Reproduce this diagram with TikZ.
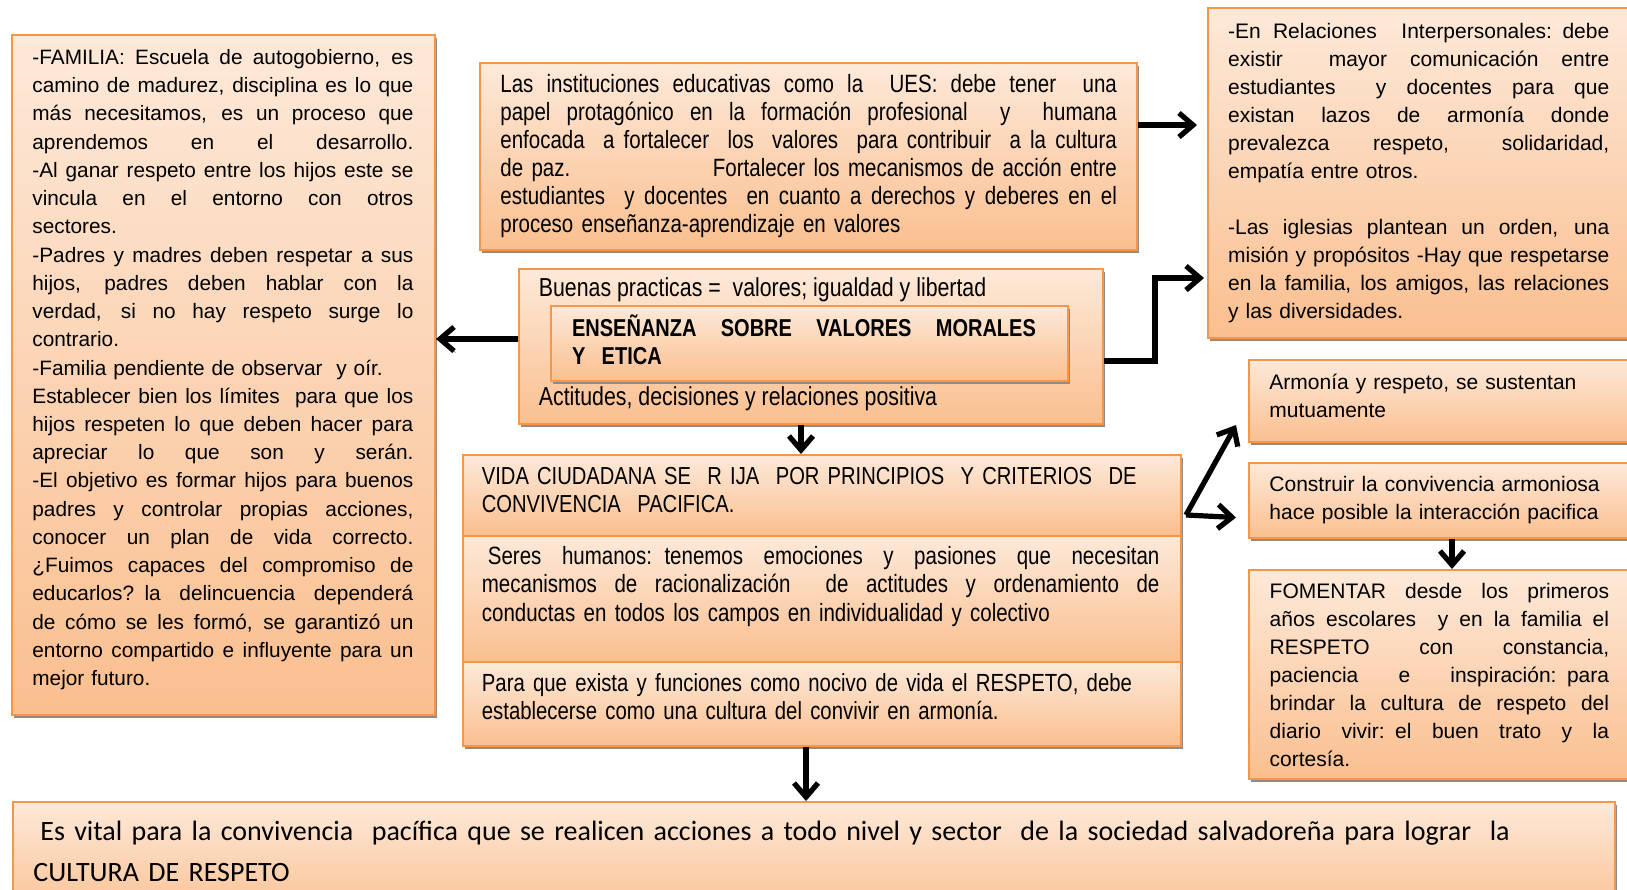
\documentclass[tikz,border=0pt]{standalone}
\usepackage{fontspec}
\setmainfont{Liberation Sans}
\newfontfamily\narrowfont[FakeStretch=0.82]{Liberation Sans}
\newfontfamily\calfont{Carlito}
\usetikzlibrary{arrows.meta,shadows}
\definecolor{boxtop}{HTML}{FDE9D9}
\definecolor{boxbot}{HTML}{FABF8F}
\definecolor{boxline}{HTML}{F79646}
\newcommand\jline[1]{\noindent\hbox to \hsize{\strut\spaceskip=0.3em plus 1fil\relax#1}\par}
\newcommand\lline[1]{\noindent\strut#1\par}
\newcommand\fA{\fontsize{10.4}{14.12}\selectfont}
\newcommand\fR{\fontsize{10.5}{14}\selectfont}
\newcommand\fN{\narrowfont\fontsize{12.5}{14}\selectfont}
\begin{document}
\begin{tikzpicture}[x=0.5pt,y=-0.5pt,
  box/.style={draw=boxline, line width=1pt, top color=boxtop, bottom color=boxbot,
    inner sep=0pt, anchor=north west,
    drop shadow={shadow xshift=1pt, shadow yshift=-1.5pt, fill=black!45, opacity=1}},
  txt/.style={inner sep=0pt, anchor=north west, align=left},
  arr/.style={line width=2.6pt, -{Straight Barb[length=7pt,width=12pt]},
    preaction={draw=black!40, transform canvas={shift={(0.8pt,-0.8pt)}}}}]
\useasboundingbox (0,0) rectangle (1627,889);

% boxes
\node[box, minimum width=211.5pt, minimum height=340pt] (left) at (11,34) {};
\node[box, minimum width=328.5pt, minimum height=93.5pt] (ues) at (479,62) {};
\node[box, minimum width=292pt, minimum height=77.5pt] (central) at (518,268) {};
\node[box, minimum width=258.5pt, minimum height=37.5pt] (inner) at (550,305) {};
\node[box, minimum width=219pt, minimum height=165pt] (rtop) at (1207,7) {};
\node[box, minimum width=198.5pt, minimum height=41pt] (armonia) at (1248,359) {};
\node[box, minimum width=198.5pt, minimum height=37.5pt] (construir) at (1248,462) {};
\node[box, minimum width=198.5pt, minimum height=104.5pt] (fomentar) at (1248,569) {};
\node[box, minimum width=359pt, minimum height=40.5pt] (vida1) at (462,454) {};
\node[box, minimum width=359pt, minimum height=63pt] (vida2) at (462,535) {};
\node[box, minimum width=359pt, minimum height=42pt] (vida3) at (462,661) {};
\node[box, minimum width=801pt, minimum height=60pt] (bottom) at (12,801) {};

% texts
\node[txt, text width=190.5pt, font=\fA] (lefttxt) at (32,44.2) {%
\jline{-FAMILIA: Escuela de autogobierno, es}
\jline{camino de madurez, disciplina es lo que}
\jline{más necesitamos, es un proceso que}
\jline{aprendemos en el desarrollo.}
\jline{-Al ganar respeto entre los hijos este se}
\jline{vincula en el entorno con otros}
\lline{sectores.}
\jline{-Padres y madres deben respetar a sus}
\jline{hijos, padres deben hablar con la}
\jline{verdad, si no hay respeto surge lo}
\lline{contrario.}
\lline{-Familia pendiente de observar\ \ y oír.}
\jline{Establecer bien los límites\ \ para que los}
\jline{hijos respeten lo que deben hacer para}
\jline{apreciar lo que son y serán.}
\jline{-El objetivo es formar hijos para buenos}
\jline{padres y controlar propias acciones,}
\jline{conocer un plan de vida correcto.}
\jline{¿Fuimos capaces del compromiso de}
\jline{educarlos? la delincuencia dependerá}
\jline{de cómo se les formó, se garantizó un}
\jline{entorno compartido e influyente para un}
\lline{mejor futuro.}};

\node[txt, text width=308.25pt, font=\fN] (uestxt) at (500,72.4) {%
\jline{Las instituciones educativas como la\ \ UES: debe tener\ \ una}
\jline{papel protagónico en la formación profesional\ \ y\ \ humana}
\jline{enfocada\ \ a fortalecer\ \ los\ \ valores\ \ para contribuir\ \ a la cultura}
\noindent\hbox to \hsize{\strut de paz.\hfill Fortalecer los mecanismos de acción entre}\par
\jline{estudiantes\ \ y docentes\ \ en cuanto a derechos y deberes en el}
\lline{proceso enseñanza-aprendizaje en valores}};

\node[txt, font=\narrowfont\fontsize{13}{14}\selectfont] (buenastxt) at (538.5,276.4) {\strut Buenas practicas =\ \ valores; igualdad y libertad};
\node[txt, text width=231.9pt, font=\narrowfont\bfseries\fontsize{12.2}{14}\selectfont] (innertxt) at (571.7,314.4) {%
\jline{ENSEÑANZA\ \ SOBRE\ \ VALORES\ \ MORALES}
\lline{Y\ \ ETICA}};
\node[txt, font=\narrowfont\fontsize{13}{14}\selectfont] (actitxt) at (538.5,385.4) {\strut Actitudes, decisiones y relaciones positiva};

\node[txt, text width=190.6pt, font=\fR] (rtoptxt) at (1227.7,18.4) {%
\jline{-En Relaciones\ \ Interpersonales: debe}
\jline{existir\ \ mayor comunicación entre}
\jline{estudiantes\ \ y docentes para que}
\jline{existan lazos de armonía donde}
\jline{prevalezca respeto, solidaridad,}
\lline{empatía entre otros.}
\lline{}
\jline{-Las iglesias plantean un orden, una}
\jline{misión y propósitos -Hay que respetarse}
\jline{en la familia, los amigos, las relaciones}
\lline{y las diversidades.}};

\node[txt, text width=175pt, font=\fR] (armtxt) at (1269,369.4) {%
\lline{Armonía y respeto, se sustentan}
\lline{mutuamente}};
\node[txt, text width=175pt, font=\fR] (constxt) at (1269,471.4) {%
\lline{Construir la convivencia armoniosa}
\lline{hace posible la interacción pacifica}};
\node[txt, text width=169.7pt, font=\fR] (fomtxt) at (1269.3,578.9) {%
\jline{FOMENTAR desde los primeros}
\jline{años escolares\ \ y en la familia el}
\jline{RESPETO con constancia,}
\jline{paciencia e inspiración: para}
\jline{brindar la cultura de respeto del}
\jline{diario vivir: el buen trato y la}
\lline{cortesía.}};

\node[txt, text width=338.75pt, font=\narrowfont\fontsize{12.3}{14.2}\selectfont] (vida1txt) at (481.5,464.1) {%
\lline{VIDA CIUDADANA SE\ \ R IJA\ \ POR PRINCIPIOS\ \ Y CRITERIOS\ \ DE}
\lline{CONVIVENCIA\ \ PACIFICA.}};
\node[txt, text width=338.75pt, font=\narrowfont\fontsize{12.5}{14.25}\selectfont] (vida2txt) at (481.5,544) {%
\jline{\hspace*{3pt}Seres humanos: tenemos emociones y pasiones que necesitan}
\jline{mecanismos de racionalización\ \ de actitudes y ordenamiento de}
\lline{conductas en todos los campos en individualidad y colectivo}};
\node[txt, text width=338.75pt, font=\narrowfont\fontsize{12.4}{14}\selectfont] (vida3txt) at (481.5,671.4) {%
\lline{Para que exista y funciones como nocivo de vida el RESPETO, debe}
\lline{establecerse como una cultura del convivir en armonía.}};

\node[txt, text width=785pt, font=\calfont\fontsize{14}{20.5}\selectfont] (bottomtxt) at (33,811.3) {%
\lline{\hspace*{0.25em}Es vital para la convivencia\ \ pacífica que se realicen acciones a todo nivel y sector\ \ de la sociedad salvadoreña para lograr\ \ la}
\lline{CULTURA DE RESPETO}};

% connectors
\draw[arr] ([yshift=3.75pt]central.west) -- ([yshift=3.75pt]central.west -| left.east);
\draw[arr, shorten >=5pt] ([yshift=15.75pt]ues.east) -- ([yshift=15.75pt]ues.east -| rtop.west);
\draw[arr] ([yshift=-7.25pt]central.east) -| ([shift={(-26pt,-52.5pt)}]rtop.west) -- ([shift={(-1.5pt,-52.5pt)}]rtop.west);
\draw[arr] ([xshift=-5pt]central.south) -- ([xshift=-5pt]central.south |- vida1.north);
\coordinate (fork) at (1186,515);
\draw[arr] (fork) -- ([shift={(-6pt,9pt)}]armonia.south west);
\draw[arr] (fork) -- ([shift={(-6pt,-8.5pt)}]construir.west);
\draw[arr] ([xshift=2.25pt]construir.south) -- ([xshift=2.25pt]construir.south |- fomentar.north);
\draw[arr] ([xshift=-8pt]vida3.south) -- ([xshift=-8pt]vida3.south |- bottom.north);
\end{tikzpicture}
\end{document}
